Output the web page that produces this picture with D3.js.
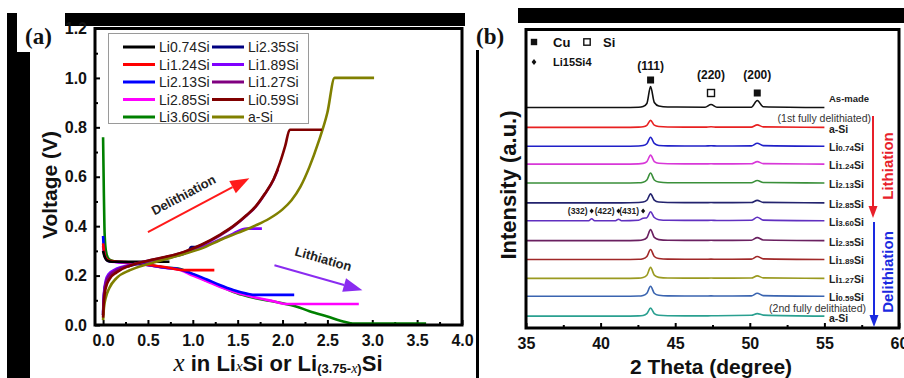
<!DOCTYPE html>
<html>
<head>
<meta charset="utf-8">
<script src="https://cdn.jsdelivr.net/npm/d3@7"></script>
<style>
  body { margin: 0; background: #fff; }
  svg { display: block; font-family: "Liberation Sans", Arial, sans-serif; }
</style>
</head>
<body>
<svg id="fig" width="904" height="378"></svg>
<script>
// ---------- panel (a): voltage profiles, [x, V] ----------
const vNames  = ["Li0.74Si", "Li1.24Si", "Li2.13Si", "Li2.85Si", "Li3.60Si",
                 "Li2.35Si", "Li1.89Si", "Li1.27Si", "Li0.59Si", "a-Si"];
const vColors = ["#000000", "#ff0000", "#0000ff", "#ff00ff", "#008000",
                 "#000080", "#8000ff", "#800080", "#800000", "#808000"];

// lithiation
const li074 = [[0,0.3],[0.01,0.285],[0.025,0.27],[0.05,0.26],[0.1,0.256],[0.74,0.256]];
const li124 = [[0,0.33],[0.01,0.3],[0.03,0.272],[0.07,0.26],[0.3,0.253],[0.5,0.244],[0.7,0.234],[0.9,0.222],[1.24,0.222]];
const li213 = [[0,0.36],[0.01,0.3],[0.03,0.27],[0.07,0.258],[0.3,0.252],[0.5,0.243],[0.7,0.232],[0.85,0.226],[1.0,0.207],
               [1.15,0.185],[1.3,0.162],[1.45,0.142],[1.6,0.127],[1.67,0.122],[2.13,0.122]];
const li285 = [[0,0.32],[0.01,0.29],[0.03,0.268],[0.07,0.258],[0.3,0.25],[0.5,0.242],[0.7,0.231],[0.85,0.224],[1.0,0.2],
               [1.15,0.178],[1.3,0.155],[1.45,0.136],[1.6,0.12],[1.75,0.107],[1.9,0.096],[2.05,0.085],[2.85,0.085]];
const li360 = [[0,0.76],[0.008,0.55],[0.015,0.4],[0.025,0.32],[0.04,0.285],[0.07,0.265],[0.12,0.258],[0.3,0.252],[0.5,0.243],
               [0.7,0.232],[0.85,0.228],[1.0,0.205],[1.1,0.188],[1.25,0.165],[1.4,0.142],[1.55,0.122],[1.7,0.108],[1.85,0.098],
               [2.0,0.088],[2.15,0.075],[2.3,0.056],[2.5,0.034],[2.7,0.012],[2.78,0.006],[3.6,0.006]];
// delithiation
const li235 = [[0,0.04],[0.01,0.12],[0.03,0.17],[0.07,0.2],[0.15,0.222],[0.3,0.24],[0.5,0.255],[0.7,0.27],[0.95,0.297],
               [0.98,0.315],[1.12,0.315]];
const li189 = [[0,0.05],[0.01,0.13],[0.03,0.18],[0.06,0.205],[0.15,0.228],[0.3,0.243],[0.5,0.257],[0.7,0.272],[0.9,0.29],
               [1.1,0.315],[1.3,0.345],[1.45,0.37],[1.6,0.39],[1.77,0.39]];
const li127 = [[0,0.04],[0.01,0.12],[0.03,0.17],[0.07,0.2],[0.15,0.222],[0.3,0.242],[0.5,0.26],[0.7,0.275],[0.9,0.295],
               [1.1,0.324],[1.3,0.362],[1.45,0.398],[1.6,0.443],[1.7,0.478],[1.8,0.528],[1.9,0.588],[1.95,0.63]];
const li059 = [[0,0.03],[0.01,0.1],[0.03,0.15],[0.07,0.185],[0.15,0.213],[0.3,0.24],[0.5,0.26],[0.7,0.276],[0.9,0.296],
               [1.1,0.326],[1.3,0.365],[1.45,0.4],[1.6,0.445],[1.7,0.48],[1.8,0.53],[1.9,0.59],[1.97,0.655],[2.03,0.725],
               [2.08,0.79],[2.44,0.79]];
const aSi   = [[0,0.02],[0.01,0.07],[0.03,0.11],[0.07,0.15],[0.15,0.19],[0.3,0.222],[0.5,0.247],[0.7,0.267],[0.9,0.287],
               [1.1,0.31],[1.3,0.343],[1.5,0.373],[1.7,0.403],[1.85,0.43],[2.0,0.468],[2.1,0.505],[2.2,0.56],[2.3,0.64],
               [2.4,0.74],[2.5,0.86],[2.58,1.0],[3.02,1.0]];
const vCurves = [li074, li124, li213, li285, li360, li235, li189, li127, li059, aSi];
const vDrawOrder = [4, 3, 2, 1, 0, 5, 6, 7, 9, 8];

const xTicksA = [0, 0.5, 1.0, 1.5, 2.0, 2.5, 3.0, 3.5, 4.0];
const yTicksA = [0, 0.2, 0.4, 0.6, 0.8, 1.0, 1.2];

// ---------- panel (b): XRD patterns ----------
const twoTheta = [35, 39.2, 39.4, 39.6, 41.0, 41.2, 41.4, 42.55, 42.85, 43.1, 43.35, 43.6, 43.9, 44.5,
                  47.0, 47.4, 47.8, 50.1, 50.5, 50.9, 55];
const xrdNames   = ["As-made", "a-Si", "Li0.74Si", "Li1.24Si", "Li2.13Si", "Li2.85Si", "Li3.60Si",
                    "Li2.35Si", "Li1.89Si", "Li1.27Si", "Li0.59Si", "a-Si"];
const xrdColors  = ["#111111", "#e82020", "#2020c8", "#d838d8", "#3a8f3a", "#23236e", "#6030c0",
                    "#6a2060", "#a02828", "#9a9a20", "#3a64b0", "#2aa090"];
const xrdOffsets = [222, 202, 183, 165, 146, 126, 108, 88, 69, 50, 32, 12];
const xrdValues = [
  [0,0,0,0,0,0,0,0.3,1,4,21,5,1.5,0.5,0.3,3,0.3,0.3,7,0.8,0],
  [0,0,0,0,0,0,0,0.2,0.6,2,7,2.2,0.8,0.3,0.2,0.6,0.2,0.2,2.5,0.5,0],
  [0,0,0,0,0,0,0,0.2,0.7,2.5,9,2.8,0.8,0.3,0.2,0.4,0.2,0.3,3,0.6,0],
  [0,0,0,0,0,0,0,0.2,0.7,2.5,9,2.6,0.8,0.3,0.2,0.3,0.2,0.3,2.5,0.5,0],
  [0,0,0,0,0,0,0,0.2,0.8,3,10,3,0.9,0.3,0.2,0.3,0.2,0.3,2.5,0.5,0],
  [0,0,0,0,0,0,0,0.3,0.8,2.6,9,2.8,0.8,0.3,0.2,0.3,0.2,0.3,2.5,0.5,0],
  [0,0,2,0,0,1.5,0,0.5,2.5,3,9,3.2,1,0.4,0.3,0.4,0.2,0.4,3.5,0.6,0],
  [0,0,0,0,0,0,0,0.2,0.8,3,11,3.2,1,0.3,0.2,0.3,0.2,0.3,3,0.6,0],
  [0,0,0,0,0,0,0,0.2,0.8,3,10,3,0.9,0.3,0.2,0.3,0.2,0.3,3,0.6,0],
  [0,0,0,0,0,0,0,0.2,0.8,3,11,3.2,1,0.3,0.2,0.3,0.2,0.3,2.5,0.5,0],
  [0,0,0,0,0,0,0,0.2,0.8,3,10,3,0.9,0.3,0.2,0.3,0.2,0.3,3,0.6,0],
  [0,0,0,0,0,0,0,0.2,0.6,2.4,8,2.5,0.8,0.3,0.2,0.3,0.3,0.8,2.5,1,0]
];
const xTicksB = [35, 40, 45, 50, 55, 60];
const peakLabels = [["(111)", 43.35, "full"], ["(220)", 47.4, "open"], ["(200)", 50.5, "full"]];
const li15Peaks = [["(332)", 39.4], ["(422)", 41.2], ["(431)", 42.85]];

const svg = d3.select("#fig");

// scanned-page black borders
svg.append("rect").attr("x", 7).attr("y", 13).attr("width", 458).attr("height", 13).attr("fill", "#000");
svg.append("rect").attr("x", 7).attr("y", 13).attr("width", 23).attr("height", 365).attr("fill", "#000");
svg.append("rect").attr("x", 17).attr("y", 13).attr("width", 48).attr("height", 39).attr("fill", "#fff");
svg.append("rect").attr("x", 518).attr("y", 8).attr("width", 386).attr("height", 15).attr("fill", "#000");
svg.append("rect").attr("x", 476).attr("y", 50).attr("width", 3).attr("height", 328).attr("fill", "#000");

function drawArrow(g, p0, p1, color, head, half, width) {
  const dx = p1[0] - p0[0], dy = p1[1] - p0[1];
  const len = Math.hypot(dx, dy), ux = dx / len, uy = dy / len;
  const bx = p1[0] - ux * head, by = p1[1] - uy * head;
  g.append("line").attr("x1", p0[0]).attr("y1", p0[1]).attr("x2", bx).attr("y2", by)
    .attr("stroke", color).attr("stroke-width", width);
  g.append("path")
    .attr("d", `M${p1[0]},${p1[1]}L${bx - uy * half},${by + ux * half}L${bx + uy * half},${by - ux * half}Z`)
    .attr("fill", color);
}

// ===================== panel (a) =====================
const xA = d3.scaleLinear().domain([-0.09, 4.0]).range([95, 462]);
const yA = d3.scaleLinear().domain([0, 1.2]).range([325, 28.5]);
const gA = svg.append("g");

const minorA = d3.range(0, 4.01, 0.25).filter(v => !xTicksA.some(t => Math.abs(t - v) < 1e-6));
const minorAy = d3.range(0.1, 1.2, 0.2);

gA.append("g").attr("transform", "translate(0,325)")
  .call(d3.axisBottom(xA).tickValues(xTicksA).tickFormat(d3.format(".1f")).tickSize(-5).tickPadding(10))
  .call(g => g.select(".domain").remove());
gA.append("g").attr("transform", "translate(0,325)")
  .call(d3.axisBottom(xA).tickValues(minorA).tickFormat("").tickSize(-3))
  .call(g => g.select(".domain").remove());
gA.append("g").attr("transform", "translate(95,0)")
  .call(d3.axisLeft(yA).tickValues(yTicksA).tickFormat(d3.format(".1f")).tickSize(-5).tickPadding(8))
  .call(g => g.select(".domain").remove());
gA.append("g").attr("transform", "translate(95,0)")
  .call(d3.axisLeft(yA).tickValues(minorAy).tickFormat("").tickSize(-3))
  .call(g => g.select(".domain").remove());
gA.selectAll(".tick line").attr("stroke-width", 2);
gA.selectAll(".tick text").attr("font-size", 16).attr("font-weight", "bold").attr("fill", "#111")
  .attr("font-family", "'Liberation Sans', Arial, sans-serif");

const lineA = d3.line().x(d => xA(d[0])).y(d => yA(d[1])).curve(d3.curveMonotoneX);
gA.selectAll(".vcurve").data(vDrawOrder).join("path")
  .attr("class", "vcurve")
  .attr("d", i => lineA(vCurves[i]))
  .attr("fill", "none")
  .attr("stroke", i => vColors[i])
  .attr("stroke-width", 2.6)
  .attr("stroke-linejoin", "round");

gA.append("rect").attr("x", 95).attr("y", 28.5).attr("width", 367).attr("height", 296.5)
  .attr("fill", "none").attr("stroke", "#000").attr("stroke-width", 3);

// legend
const legA = gA.append("g");
legA.append("rect").attr("x", 108.5).attr("y", 33.5).attr("width", 200).attr("height", 90)
  .attr("fill", "#fff").attr("stroke", "#9a9a9a").attr("stroke-width", 1);
const legItems = legA.selectAll(".leg").data(vNames).join("g")
  .attr("class", "leg")
  .attr("transform", (d, i) => `translate(${123 + Math.floor(i / 5) * 89},${47 + (i % 5) * 17.5})`);
legItems.append("line").attr("x1", 0).attr("x2", 32).attr("stroke", (d, i) => vColors[i]).attr("stroke-width", 3);
legItems.append("text").attr("x", 36).attr("y", 5).attr("font-size", 14).attr("fill", "#222").text(d => d);

// arrows + annotations
drawArrow(gA, [xA(0.5), yA(0.376)], [xA(1.63), yA(0.594)], "#ff1a1a", 19, 7, 2);
drawArrow(gA, [xA(1.91), yA(0.242)], [xA(2.89), yA(0.141)], "#8a2cf0", 19, 7, 2);
gA.append("text").attr("transform", `translate(${xA(0.92)},${yA(0.51)}) rotate(-28)`)
  .attr("text-anchor", "middle").attr("font-size", 13).attr("font-weight", "bold").attr("fill", "#222")
  .text("Delithiation");
gA.append("text").attr("transform", `translate(${xA(2.44)},${yA(0.25)}) rotate(16)`)
  .attr("text-anchor", "middle").attr("font-size", 13).attr("font-weight", "bold").attr("fill", "#222")
  .text("Lithiation");

// axis titles
gA.append("text").attr("transform", "translate(57,185) rotate(-90)").attr("text-anchor", "middle")
  .attr("font-size", 21).attr("font-weight", "bold").attr("fill", "#111").text("Voltage (V)");
const xt = gA.append("text").attr("x", 278).attr("y", 371).attr("text-anchor", "middle")
  .attr("font-weight", "bold").attr("fill", "#111").attr("font-size", 22);
xt.append("tspan").attr("font-family", "'Liberation Serif', serif").attr("font-style", "italic")
  .attr("font-weight", "normal").attr("font-size", 25).text("x");
xt.append("tspan").text(" in Li");
xt.append("tspan").attr("font-family", "'Liberation Serif', serif").attr("font-style", "italic")
  .attr("font-weight", "normal").attr("font-size", 15).text("x");
xt.append("tspan").text("Si or Li");
xt.append("tspan").attr("font-size", 13).attr("dy", 2).text("(3.75-");
xt.append("tspan").attr("font-family", "'Liberation Serif', serif").attr("font-style", "italic")
  .attr("font-weight", "normal").attr("font-size", 14).text("x");
xt.append("tspan").attr("font-size", 13).text(")");
xt.append("tspan").attr("dy", -2).text("Si");

svg.append("text").attr("x", 25).attr("y", 44).attr("font-family", "'Liberation Serif', serif")
  .attr("font-weight", "bold").attr("font-size", 23).attr("fill", "#111").text("(a)");

// ===================== panel (b) =====================
const xB = d3.scaleLinear().domain([35, 60]).range([526, 899]);
const yB = d3.scaleLinear().domain([0, 300]).range([328, 30]);
const gB = svg.append("g");

gB.append("g").attr("transform", "translate(0,328)")
  .call(d3.axisBottom(xB).tickValues(xTicksB).tickFormat(d3.format("d")).tickSize(-5).tickPadding(10))
  .call(g => g.select(".domain").remove());
gB.append("g").attr("transform", "translate(0,328)")
  .call(d3.axisBottom(xB).tickValues(d3.range(37.5, 60, 5)).tickFormat("").tickSize(-3))
  .call(g => g.select(".domain").remove());
gB.selectAll(".tick line").attr("stroke-width", 2);
gB.selectAll(".tick text").attr("font-size", 16).attr("font-weight", "bold").attr("fill", "#111")
  .attr("font-family", "'Liberation Sans', Arial, sans-serif");

const lineB = d3.line().x(d => xB(d[0])).y(d => yB(d[1])).curve(d3.curveMonotoneX);
gB.selectAll(".xrd").data(xrdValues).join("path")
  .attr("class", "xrd")
  .attr("d", (vals, i) => lineB(twoTheta.map((t, k) => [t, xrdOffsets[i] + vals[k]])))
  .attr("fill", "none")
  .attr("stroke", (d, i) => xrdColors[i])
  .attr("stroke-width", 1.6);

gB.append("rect").attr("x", 526).attr("y", 29.5).attr("width", 373).attr("height", 298.5)
  .attr("fill", "none").attr("stroke", "#000").attr("stroke-width", 3);

// trace labels
const lab = gB.selectAll(".xlab").data(xrdNames).join("text")
  .attr("class", "xlab")
  .attr("x", 829)
  .attr("y", (d, i) => yB(xrdOffsets[i]) + (i === 0 ? -5 : (i === 1 || i === 11 ? 6 : 5)))
  .attr("font-weight", "bold").attr("fill", "#222").attr("font-size", 10.5);
lab.each(function (d) {
  const t = d3.select(this);
  const m = d.match(/^Li([\d.]+)Si$/);
  if (m) {
    t.append("tspan").text("Li");
    t.append("tspan").attr("font-size", 8).text(m[1]);
    t.append("tspan").text("Si");
  } else {
    t.attr("font-size", d === "As-made" ? 9.5 : 10.5).text(d);
  }
});

gB.append("text").attr("x", 871).attr("y", yB(xrdOffsets[1]) - 5).attr("text-anchor", "end")
  .attr("font-size", 10.5).attr("fill", "#333").text("(1st fully delithiated)");
gB.append("text").attr("x", 866).attr("y", yB(xrdOffsets[11]) - 4).attr("text-anchor", "end")
  .attr("font-size", 10.5).attr("fill", "#333").text("(2nd fully delithiated)");

// lithiation / delithiation arrows on the right
drawArrow(gB, [873, 116], [873, 218], "#e8202a", 12, 4.5, 2);
drawArrow(gB, [874, 222], [874, 327], "#1a2ae0", 12, 4.5, 2);
gB.append("text").attr("transform", "translate(893,166) rotate(-90)").attr("text-anchor", "middle")
  .attr("font-size", 15).attr("font-weight", "bold").attr("fill", "#e8202a").text("Lithiation");
gB.append("text").attr("transform", "translate(893,272) rotate(-90)").attr("text-anchor", "middle")
  .attr("font-size", 15).attr("font-weight", "bold").attr("fill", "#1a2ae0").text("Delithiation");

// phase legend
const sym = (g, cx, cy, kind, s) => {
  if (kind === "diamond") {
    g.append("path").attr("d", `M${cx},${cy - s}L${cx + s * 0.8},${cy}L${cx},${cy + s}L${cx - s * 0.8},${cy}Z`).attr("fill", "#111");
  } else {
    g.append("rect").attr("x", cx - s).attr("y", cy - s).attr("width", 2 * s).attr("height", 2 * s)
      .attr("fill", kind === "full" ? "#111" : "#fff").attr("stroke", "#111").attr("stroke-width", kind === "full" ? 0 : 1.4);
  }
};
sym(gB, 534, 42, "full", 3.2);
gB.append("text").attr("x", 553).attr("y", 47).attr("font-size", 13).attr("font-weight", "bold").attr("fill", "#111").text("Cu");
sym(gB, 587, 42, "open", 3.2);
gB.append("text").attr("x", 603).attr("y", 47).attr("font-size", 13).attr("font-weight", "bold").attr("fill", "#111").text("Si");
sym(gB, 534, 62, "diamond", 3);
gB.append("text").attr("x", 553).attr("y", 66).attr("font-size", 11).attr("font-weight", "bold").attr("fill", "#111").text("Li15Si4");

// peak indices
peakLabels.forEach(([txt, t, kind], k) => {
  const ty = k === 0 ? 70 : 79;
  gB.append("text").attr("x", xB(t)).attr("y", ty).attr("text-anchor", "middle")
    .attr("font-size", 12).attr("font-weight", "bold").attr("fill", "#111").text(txt);
  sym(gB, xB(t), ty + (k === 0 ? 10 : 14), kind, 3.5);
});
li15Peaks.forEach(([txt, t]) => {
  gB.append("text").attr("x", xB(t) - 4).attr("y", 214).attr("text-anchor", "end")
    .attr("font-size", 8.5).attr("font-weight", "bold").attr("fill", "#222").text(txt);
  sym(gB, xB(t), 211, "diamond", 2.6);
});

// axis titles
gB.append("text").attr("transform", "translate(516,185) rotate(-90)").attr("text-anchor", "middle")
  .attr("font-size", 22).attr("font-weight", "bold").attr("fill", "#111").text("Intensity (a.u.)");
gB.append("text").attr("x", 711).attr("y", 374).attr("text-anchor", "middle")
  .attr("font-size", 21).attr("font-weight", "bold").attr("fill", "#111").text("2 Theta (degree)");
svg.append("text").attr("x", 476).attr("y", 44).attr("font-family", "'Liberation Serif', serif")
  .attr("font-weight", "bold").attr("font-size", 23).attr("fill", "#111").text("(b)");
</script>
</body>
</html>
